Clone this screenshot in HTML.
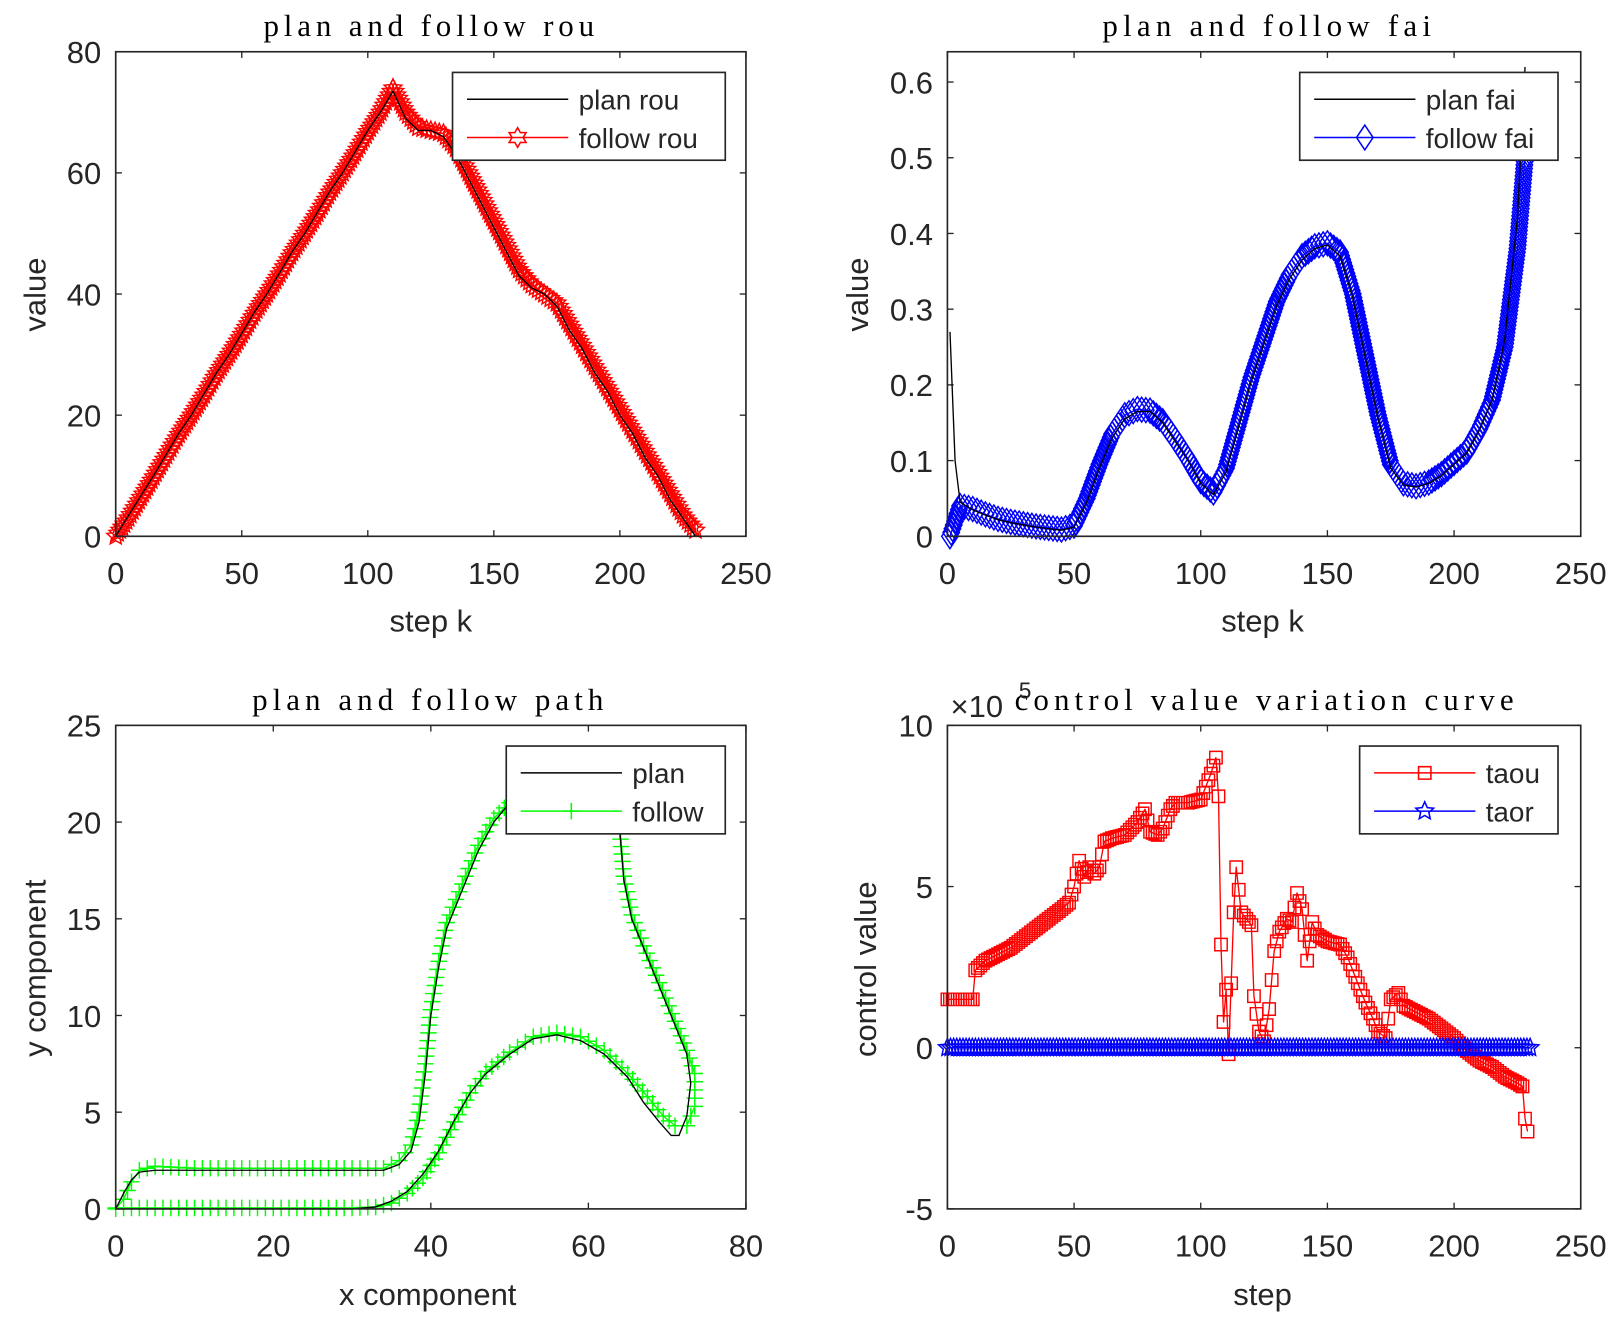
<!DOCTYPE html>
<html><head><meta charset="utf-8"><style>
html,body{margin:0;padding:0;background:#fff;}
svg{display:block;}
text{font-family:"Liberation Sans",Arial,sans-serif;fill:#262626;}
.title{font-family:"Liberation Serif",serif;fill:#000;}
</style></head><body>
<svg id="fig" xmlns="http://www.w3.org/2000/svg" width="1620" height="1334" viewBox="0 0 1568 1291">
<rect width="1568" height="1291" fill="#fff"/>
</svg>
<script>
// ---------- Plot 1 data: rou ----------
const rouK = [0,5,10,15,20,25,30,35,40,45,50,55,60,65,70,75,80,85,90,95,100,105,110,115,120,125,130,135,140,145,150,155,160,165,170,175,180,185,190,195,200,205,210,215,220,225,230];
const planRou = [0,3.4,6.7,10,13.5,17,20,23.5,27,30,33.5,37,40,43.5,47,50,53.5,57,60,63.5,67,70,73.5,69,67,67,66,63,59,55,51,47,43,41,40,38,34,31,27,24,20,17,13,10,6,3,0];
const followRou = [0,3,6.4,9.8,13.3,16.8,20,23.3,26.8,30,33.3,36.8,40,43.3,46.8,50,53.3,56.8,60,63.3,66.8,70,74,70,67.5,67,66.5,64,60,56,52,48,44,41.5,40,38.5,35,31.5,28,24.5,21,17.5,14,10.5,7,3.5,1];
const rouXTicks = [0,50,100,150,200,250];
const rouYTicks = [0,20,40,60,80];

// ---------- Plot 2 data: fai ----------
const faiK = [1,3,5,10,15,20,25,30,35,40,45,50,55,60,65,70,75,80,85,90,95,100,105,110,115,120,125,130,135,140,145,150,155,160,165,170,175,180,185,190,195,200,205,210,215,220,225,228];
const planFai = [0.27,0.1,0.045,0.035,0.028,0.022,0.018,0.015,0.012,0.01,0.008,0.012,0.045,0.09,0.13,0.155,0.165,0.165,0.15,0.125,0.1,0.07,0.055,0.085,0.145,0.205,0.255,0.305,0.34,0.365,0.38,0.385,0.37,0.315,0.235,0.155,0.09,0.068,0.065,0.07,0.08,0.095,0.11,0.14,0.18,0.26,0.42,0.62];
const followFai = [0,0.02,0.04,0.036,0.029,0.023,0.019,0.016,0.013,0.011,0.009,0.014,0.05,0.095,0.135,0.16,0.168,0.166,0.152,0.128,0.102,0.073,0.058,0.09,0.15,0.21,0.26,0.31,0.345,0.37,0.383,0.387,0.375,0.32,0.24,0.16,0.095,0.07,0.066,0.071,0.082,0.097,0.112,0.142,0.18,0.25,0.38,0.5];
const faiXTicks = [0,50,100,150,200,250];
const faiYTicks = [0,0.1,0.2,0.3,0.4,0.5,0.6];

// ---------- Plot 3 data: path ----------
const planPX = [0,1,2,3,5,10,15,20,25,30,34,36,37.5,38.5,39.3,40,41,42,44,46,48,50,53,57,61,63,64,64.5,65.5,67,69,71,72.5,73,72.5,71.5,70.5,69,67,65,62,59,56,53,50,47,45,43,41,39,37,35,33,30,20,10,0];
const planPY = [0,0.8,1.5,1.9,2,2,2,2,2,2,2,2.3,3,4.5,7,10,12.5,14.5,16.5,18.5,20,21,21.5,21.5,21,20.5,19.5,17,15,13.5,11.5,9.5,8,6.5,4.8,3.8,3.8,4.5,5.5,6.8,8,8.7,9,8.8,8,7,6,4.6,3,1.8,0.9,0.4,0.1,0,0,0,0];
const followPX = [0,1,2,3,5,10,15,20,25,30,34,36,37.5,38.5,39.3,40,41,42,44,46,48,50,53,57,61,63,64,64.5,65.5,67,69,71,72.5,73.5,73.5,72.5,71,69.5,67.5,65,62,59,56,53,50,47,45,43,41,39,37,35,33,30,20,10,0];
const followPY = [0,0.5,1.4,2,2.2,2.1,2.1,2.1,2.1,2.1,2.1,2.5,3.3,5,7.5,10.3,12.8,14.8,16.8,18.8,20.2,21,21.5,21.5,21,20.5,19.5,17.2,15.2,13.6,11.7,9.7,8.2,7,5.3,4.3,4.3,4.8,5.8,7,8.2,8.9,9.1,8.9,8.1,7.1,6,4.5,2.9,1.6,0.8,0.3,0.1,0.05,0.05,0.05,0.05];
const pathXTicks = [0,20,40,60,80];
const pathYTicks = [0,5,10,15,20,25];

// ---------- Plot 4 data: control (x1e-5) ----------
const taouK = [0,3,6,9,10,11,15,20,25,30,35,40,45,48,50,52,54,56,58,60,62,65,70,75,78,80,83,85,88,90,95,100,102,104,106,107,108,109,110,111,113,114,116,118,120,121,123,125,127,129,131,134,136,138,140,142,144,146,150,155,158,162,165,168,170,173,175,178,180,185,190,195,200,205,210,215,220,225,227,228,229];
const taouV = [1.5,1.5,1.5,1.5,1.5,2.4,2.7,2.9,3.1,3.4,3.7,4.0,4.3,4.5,5.0,5.8,5.3,5.6,5.4,5.6,6.4,6.5,6.6,7.0,7.4,6.7,6.6,6.8,7.4,7.6,7.6,7.7,8.1,8.5,9.0,7.8,3.2,0.8,1.8,-0.2,4.2,5.6,4.2,4.0,3.8,1.6,0.5,0.2,1.2,3.0,3.6,4.0,3.9,4.8,4.3,2.7,3.9,3.5,3.3,3.2,2.8,2.0,1.4,0.9,0.5,0.3,1.5,1.7,1.3,1.1,0.9,0.6,0.3,-0.1,-0.4,-0.6,-0.9,-1.1,-1.2,-2.2,-2.6];
const taorK = [0,230];
const taorV = [0,0];
const ctrlXTicks = [0,50,100,150,200,250];
const ctrlYTicks = [-5,0,5,10];

const NS = "http://www.w3.org/2000/svg";
const svg = document.getElementById('fig');
function el(tag, attrs, parent){
  const e = document.createElementNS(NS, tag);
  for (const k in attrs) e.setAttribute(k, attrs[k]);
  (parent||svg).appendChild(e);
  return e;
}
function txt(s, attrs, parent){ const t = el('text', attrs, parent); t.textContent = s; return t; }

function axes(name, x0,y0,x1,y1, xmin,xmax,ymin,ymax, xt,yt, yfmt){
  const g = el('g',{});
  
  
  const sx = v => x0 + (v-xmin)/(xmax-xmin)*(x1-x0);
  const sy = v => y1 - (v-ymin)/(ymax-ymin)*(y1-y0);
  const ticks = el('g',{}, g);
  
  
  xt.forEach(v=>{
    const X = sx(v);
    el('line',{x1:X,y1:y1,x2:X,y2:y1-6,stroke:'#262626','stroke-width':1.3},ticks);
    el('line',{x1:X,y1:y0,x2:X,y2:y0+6,stroke:'#262626','stroke-width':1.3},ticks);
    const t = txt(String(v),{x:X,y:y1+46,'font-size':30,'text-anchor':'middle'},ticks);
    
    
  });
  yt.forEach(v=>{
    const Y = sy(v);
    el('line',{x1:x0,y1:Y,x2:x0+6,y2:Y,stroke:'#262626','stroke-width':1.3},ticks);
    el('line',{x1:x1,y1:Y,x2:x1-6,y2:Y,stroke:'#262626','stroke-width':1.3},ticks);
    const t = txt(yfmt?yfmt(v):String(v),{x:x0-14,y:Y+11,'font-size':30,'text-anchor':'end'},ticks);
    
    
  });
  return {g,sx,sy,frame:()=>{
    const f = el('rect',{x:x0,y:y0,width:x1-x0,height:y1-y0,fill:'none',stroke:'#262626','stroke-width':1.6},g);
    
    
  }};
}

function markerPath(type, x, y){
  if (type==='star'){
    let d=''; const R=9, r=4.2;
    for(let i=0;i<10;i++){ const a=-Math.PI/2+i*Math.PI/5; const rr=i%2?r:R; d+=(i?'L':'M')+(x+rr*Math.cos(a)).toFixed(1)+' '+(y+rr*Math.sin(a)).toFixed(1); }
    return d+'Z';
  }
  if (type==='hex'){
    let d=''; const R=9.5, r=5.4;
    for(let i=0;i<12;i++){ const a=-Math.PI/2+i*Math.PI/6; const rr=i%2?r:R; d+=(i?'L':'M')+(x+rr*Math.cos(a)).toFixed(1)+' '+(y+rr*Math.sin(a)).toFixed(1); }
    return d+'Z';
  }
  if (type==='diamond') return `M${x} ${y-12}L${x+8} ${y}L${x} ${y+12}L${x-8} ${y}Z`;
  if (type==='square') return `M${x-6} ${y-6}h12v12h-12Z`;
  if (type==='plus') return `M${x-8} ${y}h16M${x} ${y-8}v16`;
}

// gap: pixel spacing along path; xOnly: spacing measured along x only
function series(name, parent, px, py, color, width, marker, gap, xOnly){
  const g = el('g',{}, parent);
  
  
  const d = px.map((x,i)=>(i?'L':'M')+x.toFixed(1)+' '+py[i].toFixed(1)).join('');
  const line = el('path',{d, fill:'none', stroke:color, 'stroke-width':width, 'stroke-linejoin':'round'}, g);
  
  
  if (marker){
    let md='';
    for(let i=0;i<px.length;i++){
      md += markerPath(marker, px[i], py[i]);
      if (i<px.length-1 && gap){
        const dx=px[i+1]-px[i], dy=py[i+1]-py[i], L=xOnly?Math.abs(dx):Math.hypot(dx,dy);
        const n=Math.floor(L/gap);
        for(let j=1;j<n;j++){ md += markerPath(marker, px[i]+dx*j/n, py[i]+dy*j/n); }
      }
    }
    const m = el('path',{d:md, fill:'none', stroke:color, 'stroke-width':1.4}, g);
    
    
  }
  return g;
}

function legend(name, parent, x, y, w, entries){
  const g = el('g',{}, parent);
  
  
  el('rect',{x,y,width:w,height:85,fill:'#fff',stroke:'#262626','stroke-width':1.6}, g);
  entries.forEach((e,i)=>{
    const Y = y+26+i*37;
    el('line',{x1:x+14,y1:Y,x2:x+112,y2:Y,stroke:e.color,'stroke-width':1.5}, g);
    if (e.marker) el('path',{d:markerPath(e.marker,x+63,Y),fill:'none',stroke:e.color,'stroke-width':1.5}, g);
    const t = txt(e.label,{x:x+122,y:Y+10,'font-size':27,fill:'#000'}, g);
    
    
  });
}

function label(s, attrs, name, cls){
  const t = txt(s, attrs);
  if (cls) t.setAttribute('class', cls);
  
  
  return t;
}

// ===== Plot 1 =====
(function(){
  const A = axes('rou-axes',112,50,722,519,0,250,0,80,rouXTicks,rouYTicks);
  series('follow-rou', A.g, rouK.map(A.sx), followRou.map(A.sy), '#ff0000', 1.3, 'star', 3.5);
  series('plan-rou', A.g, rouK.map(A.sx), planRou.map(A.sy), '#000', 1.3, null);
  A.frame();
  legend('rou-legend', A.g, 438, 70, 264, [{label:'plan rou',color:'#000'},{label:'follow rou',color:'#ff0000',marker:'hex'}]);
  label('plan and follow rou',{x:255,y:35,'font-size':30,textLength:320,lengthAdjust:'spacing'},'rou-title','title');
  label('value',{x:0,y:0,'font-size':30,'text-anchor':'middle',transform:'translate(44,285) rotate(-90)'},'rou-y-axis-title');
  label('step k',{x:417,y:611,'font-size':30,'text-anchor':'middle'},'rou-x-axis-title');
})();

// ===== Plot 2 =====
(function(){
  const A = axes('fai-axes',917,50,1530,519,0,250,0,0.64,faiXTicks,faiYTicks,v=>v===0?'0':v.toFixed(1));
  series('follow-fai', A.g, faiK.map(A.sx), followFai.map(A.sy), '#0000ff', 1.3, 'diamond', 3.5);
  series('plan-fai', A.g, faiK.map(A.sx), planFai.map(A.sy), '#000', 1.3, null);
  A.frame();
  legend('fai-legend', A.g, 1258, 70, 250, [{label:'plan fai',color:'#000'},{label:'follow fai',color:'#0000ff',marker:'diamond'}]);
  label('plan and follow fai',{x:1067,y:35,'font-size':30,textLength:318,lengthAdjust:'spacing'},'fai-title','title');
  label('value',{x:0,y:0,'font-size':30,'text-anchor':'middle',transform:'translate(840,285) rotate(-90)'},'fai-y-axis-title');
  label('step k',{x:1222,y:611,'font-size':30,'text-anchor':'middle'},'fai-x-axis-title');
})();

// ===== Plot 3 =====
(function(){
  const A = axes('path-axes',112,702,722,1170,0,80,0,25,pathXTicks,pathYTicks);
  series('follow-path', A.g, followPX.map(A.sx), followPY.map(A.sy), '#00ff00', 1.3, 'plus', 7);
  series('plan-path', A.g, planPX.map(A.sx), planPY.map(A.sy), '#000', 1.3, null);
  A.frame();
  legend('path-legend', A.g, 490, 722, 212, [{label:'plan',color:'#000'},{label:'follow',color:'#00ff00',marker:'plus'}]);
  label('plan and follow path',{x:244,y:687,'font-size':30,textLength:340,lengthAdjust:'spacing'},'path-title','title');
  label('y component',{x:0,y:0,'font-size':30,'text-anchor':'middle',transform:'translate(44,937) rotate(-90)'},'path-y-axis-title');
  label('x component',{x:414,y:1263,'font-size':30,'text-anchor':'middle'},'path-x-axis-title');
})();

// ===== Plot 4 =====
(function(){
  const A = axes('control-axes',917,702,1530,1170,0,250,-5,10,ctrlXTicks,ctrlYTicks);
  series('taou', A.g, taouK.map(A.sx), taouV.map(A.sy), '#ff0000', 1.3, 'square', 2.45, true);
  series('taor', A.g, taorK.map(A.sx), taorV.map(A.sy), '#0000ff', 1.3, 'star', 3);
  A.frame();
  legend('control-legend', A.g, 1316, 722, 192, [{label:'taou',color:'#ff0000',marker:'square'},{label:'taor',color:'#0000ff',marker:'star'}]);
  label('control value variation curve',{x:982,y:687,'font-size':30,textLength:483,lengthAdjust:'spacing'},'control-title','title');
  label('×10',{x:920,y:694,'font-size':30},'exponent-label');
  label('5',{x:986,y:676,'font-size':22},'exponent-power');
  label('control value',{x:0,y:0,'font-size':30,'text-anchor':'middle',transform:'translate(848,938) rotate(-90)'},'control-y-axis-title');
  label('step',{x:1222,y:1263,'font-size':30,'text-anchor':'middle'},'control-x-axis-title');
})();
</script>
</body></html>
